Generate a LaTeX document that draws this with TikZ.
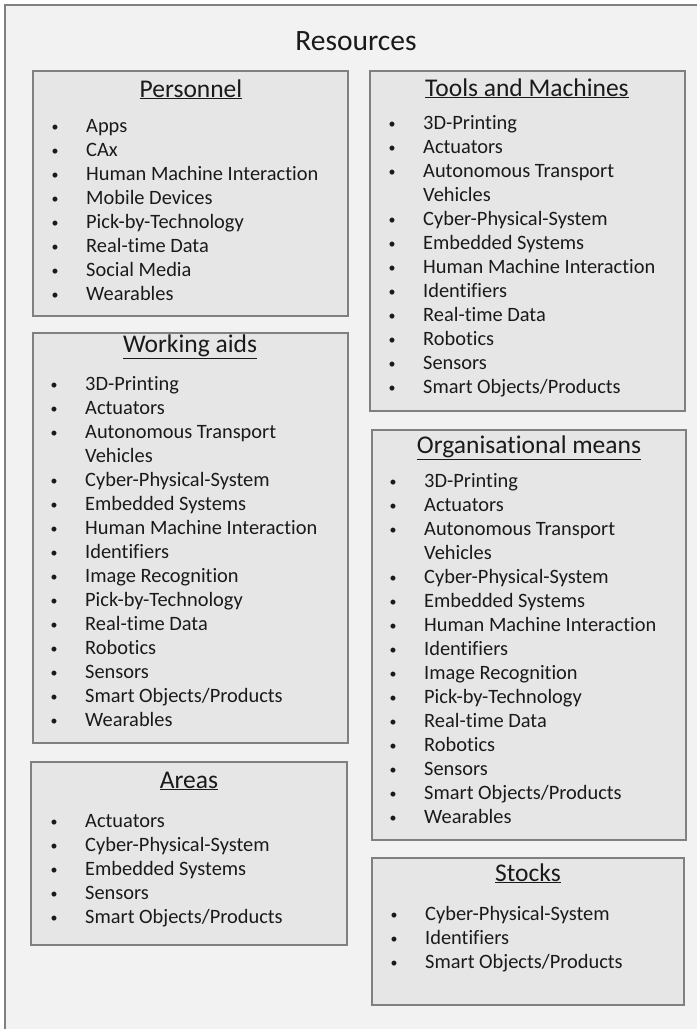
\documentclass[tikz,border=0pt]{standalone}
\usepackage{fontspec}
\setmainfont{Carlito}[Ligatures=NoCommon]
\definecolor{outerfill}{HTML}{F2F2F2}
\definecolor{boxfill}{HTML}{E6E6E6}
\definecolor{linegray}{HTML}{808080}
\definecolor{txt}{HTML}{1A1A1A}
\newcommand\bul{\makebox[31pt][l]{\hspace*{-3.5pt}{\fontsize{14}{14}\selectfont\raisebox{1pt}{\textbullet}}}}
\newcommand\cont{\hspace*{31pt}}
\newcommand\blist[4]{%
  \foreach \t [count=\i] in {#4} {\node[itm] (#1\i) at (#2,#3+24*\i-24) {\t};}}
\begin{document}
\begin{tikzpicture}[x=1pt,y=-1pt,
  box/.style={draw=linegray,fill=boxfill,line width=1.6pt},
  hdr/.style={font=\fontsize{25.5}{30}\selectfont,text=txt,anchor=base,inner sep=0pt},
  itm/.style={font=\fontsize{20.4}{24}\selectfont,text=txt,anchor=base west,inner sep=0pt},
  ttl/.style={font=\fontsize{29.5}{34}\selectfont,text=txt,anchor=base,inner sep=0pt}]
\useasboundingbox (0,0) rectangle (697,1029);
\fill[outerfill] (5,5) rectangle (697,1029);
\draw[linegray,line width=2pt] (5,1029) -- (5,5) -- (697,5);
\node[ttl] (title) at (356,50) {Resources};
% Personnel
\draw[box] (33,71) rectangle (348,316);
\node[hdr] (hp) at (191,97) {\underline{Personnel}};
\blist{p}{55}{132}{\bul Apps,\bul CAx,\bul Human Machine Interaction,\bul Mobile Devices,\bul Pick-by-Technology,\bul Real-time Data,\bul Social Media,\bul Wearables}
% Tools and Machines
\draw[box] (370,71) rectangle (685,411);
\node[hdr] (ht) at (527,96) {\underline{Tools and Machines}};
\blist{t}{392}{129}{\bul 3D-Printing,\bul Actuators,\bul Autonomous Transport,\cont Vehicles,\bul Cyber-Physical-System,\bul Embedded Systems,\bul Human Machine Interaction,\bul Identifiers,\bul Real-time Data,\bul Robotics,\bul Sensors,\bul Smart Objects/Products}
% Working aids
\draw[box] (33,333) rectangle (348,743);
\node[hdr] (hw) at (190,352) {\underline{Working aids}};
\blist{w}{54}{390}{\bul 3D-Printing,\bul Actuators,\bul Autonomous Transport,\cont Vehicles,\bul Cyber-Physical-System,\bul Embedded Systems,\bul Human Machine Interaction,\bul Identifiers,\bul Image Recognition,\bul Pick-by-Technology,\bul Real-time Data,\bul Robotics,\bul Sensors,\bul Smart Objects/Products,\bul Wearables}
% Organisational means
\draw[box] (372,430) rectangle (686,840);
\node[hdr] (ho) at (529,453) {\underline{Organisational means}};
\blist{o}{393}{487}{\bul 3D-Printing,\bul Actuators,\bul Autonomous Transport,\cont Vehicles,\bul Cyber-Physical-System,\bul Embedded Systems,\bul Human Machine Interaction,\bul Identifiers,\bul Image Recognition,\bul Pick-by-Technology,\bul Real-time Data,\bul Robotics,\bul Sensors,\bul Smart Objects/Products,\bul Wearables}
% Areas
\draw[box] (31,762) rectangle (347,945);
\node[hdr] (ha) at (189,788) {\underline{Areas}};
\blist{a}{54}{827}{\bul Actuators,\bul Cyber-Physical-System,\bul Embedded Systems,\bul Sensors,\bul Smart Objects/Products}
% Stocks
\draw[box] (372,858) rectangle (684,1005);
\node[hdr] (hs) at (528,881) {\underline{Stocks}};
\blist{s}{394}{920}{\bul Cyber-Physical-System,\bul Identifiers,\bul Smart Objects/Products}
\end{tikzpicture}
\end{document}
